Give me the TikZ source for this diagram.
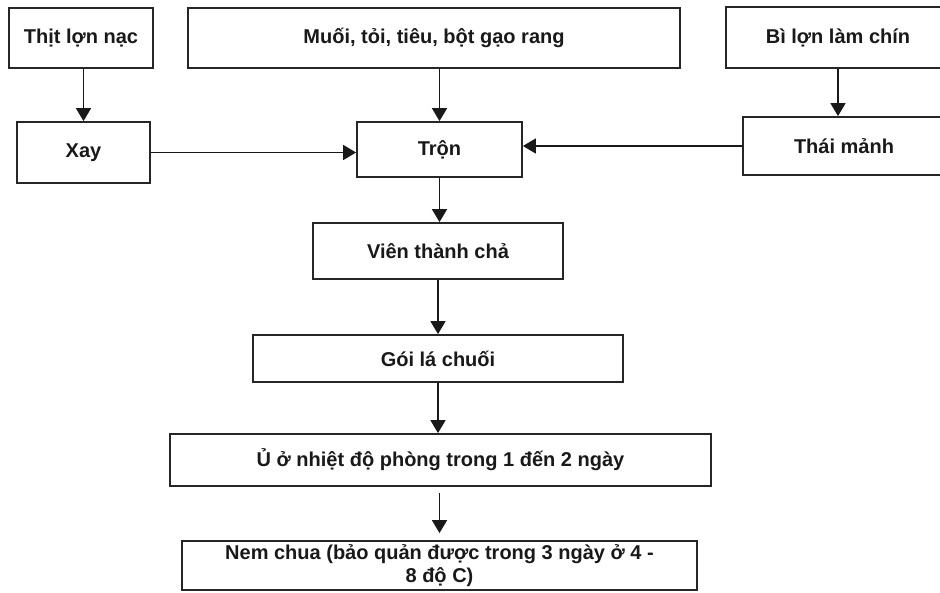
\documentclass[tikz,border=0pt]{standalone}
\usepackage{fontspec}
\setmainfont{Liberation Sans}
\usetikzlibrary{arrows.meta}
\begin{document}
\begin{tikzpicture}[x=1pt,y=-1pt,
  box/.style={draw=black!85,line width=1.8pt,inner sep=0pt,align=center,
    font=\fontsize{20}{23}\selectfont\bfseries,text=black!90},
  arr/.style={line width=1.7pt,draw=black!90,-{Triangle[length=13pt,width=15pt]}}]
\clip (0,0) rectangle (940,592);
\fill[white] (0,0) rectangle (940,592);
\node[box,minimum width=144pt,minimum height=60pt] (t1) at (81,38) {Thịt lợn nạc};
\node[box,minimum width=492pt,minimum height=60pt] (m) at (434,38) {Muối, tỏi, tiêu, bột gạo rang};
\node[box,minimum width=224pt,minimum height=61pt] (b) at (838,37.5) {Bì lợn làm chín};
\node[box,minimum width=133pt,minimum height=61pt] (xay) at (83.5,152.5) {Xay};
\node[box,minimum width=165pt,minimum height=55pt] (tron) at (439.5,149.5) {Trộn};
\node[box,minimum width=202pt,minimum height=58pt] (thai) at (844,146) {Thái mảnh};
\node[box,minimum width=250pt,minimum height=56pt] (vien) at (438,251) {Viên thành chả};
\node[box,minimum width=370pt,minimum height=47pt] (goi) at (438,358.5) {Gói lá chuối};
\node[box,minimum width=541pt,minimum height=52pt] (u) at (440.5,460) {Ủ ở nhiệt độ phòng trong 1 đến 2 ngày};
\node[box,minimum width=515pt,minimum height=49pt] (nem) at (439.5,565.5) {Nem chua (bảo quản được trong 3 ngày ở 4 -\\8 độ C)};
\draw[arr] (t1.south -| xay.north) -- (xay.north);
\draw[arr] (m.south -| tron.north) -- (tron.north);
\draw[arr] (b.south) -- (b.south |- thai.north);
\draw[arr] (xay.east) -- (xay.east -| tron.west);
\draw[arr] (thai.west) -- (thai.west -| tron.east);
\draw[arr] (tron.south) -- (tron.south |- vien.north);
\draw[arr] (vien.south) -- (vien.south |- goi.north);
\draw[arr] (goi.south) -- (goi.south |- u.north);
\draw[arr,shorten <=6pt,shorten >=7pt] (u.south -| nem.north) -- (nem.north);
\end{tikzpicture}
\end{document}
